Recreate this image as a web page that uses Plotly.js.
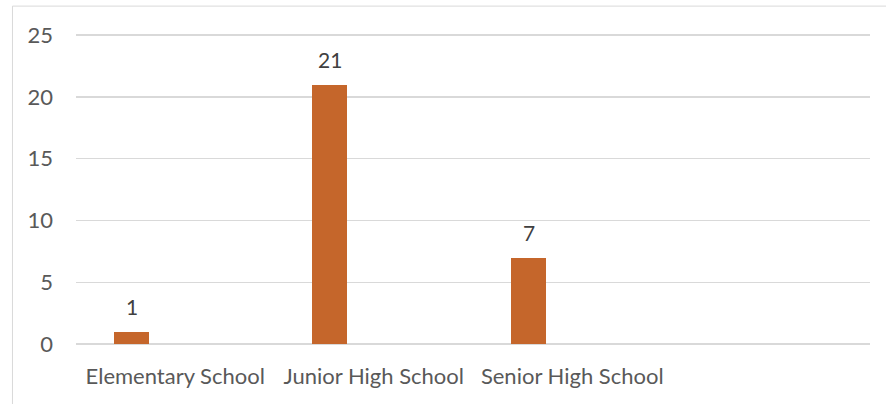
<!DOCTYPE html>
<html>
<head>
<meta charset="utf-8">
<script src="https://cdn.plot.ly/plotly-3.0.1.min.js"></script>
<style>
  html, body { margin: 0; padding: 0; background: #ffffff; }
  #chart { width: 886px; height: 404px; }
</style>
</head>
<body>
<div id="chart"></div>
<script>
// Data
var categories = ["Elementary School", "Junior High School", "Senior High School"];
var values = [1, 21, 7];
var yTickValues = [0, 5, 10, 15, 20, 25];

var FONT = "Lato, 'Open Sans', sans-serif";
var AXIS_COLOR = "#595959";
var LABEL_COLOR = "#404040";
var GRID = "#D9D9D9";
var BAR_COLOR = "#C5662B";

var BAR_WIDTH = 0.176;
var BAR_OFFSET = -0.309;

var trace = {
  type: "bar",
  x: categories,
  y: values,
  width: BAR_WIDTH,
  offset: BAR_OFFSET,
  marker: { color: BAR_COLOR, line: { width: 0 } },
  hoverinfo: "x+y",
  showlegend: false
};

var annotations = categories.map(function (c, i) {
  return {
    x: c, y: values[i], xref: "x", yref: "y",
    text: String(values[i]),
    showarrow: false,
    xanchor: "center", yanchor: "middle",
    xshift: -43.5, yshift: 25,
    font: { family: FONT, size: 21, color: LABEL_COLOR }
  };
});

var layout = {
  width: 886, height: 404,
  margin: { l: 76, r: 16, t: 34, b: 60, pad: 0 },
  paper_bgcolor: "#ffffff",
  plot_bgcolor: "#ffffff",
  font: { family: FONT, size: 22, color: AXIS_COLOR },
  bargap: 0,
  xaxis: {
    type: "category",
    range: [-0.5, 3.5],
    showgrid: false,
    showline: false,
    zeroline: false,
    ticks: "",
    ticklabelstandoff: 17,
    tickfont: { family: FONT, size: 22, color: AXIS_COLOR },
    fixedrange: true
  },
  yaxis: {
    range: [0, 25.1],
    tickvals: yTickValues,
    ticktext: yTickValues.map(String),
    showgrid: true,
    gridcolor: GRID,
    gridwidth: 1.5,
    zeroline: true,
    zerolinecolor: GRID,
    zerolinewidth: 1.5,
    showline: false,
    ticks: "",
    ticklabelstandoff: 22,
    tickfont: { family: FONT, size: 22, color: AXIS_COLOR },
    fixedrange: true
  },
  annotations: annotations,
  shapes: [
    { type: "line", xref: "paper", yref: "paper",
      x0: -0.0800, x1: -0.0800, y0: 1.09, y1: -0.2,
      line: { color: GRID, width: 1 } },
    { type: "line", xref: "paper", yref: "paper",
      x0: -0.0800, x1: 1.03, y0: 1.09, y1: 1.09,
      line: { color: GRID, width: 1 } }
  ]
};

Plotly.newPlot("chart", [trace], layout, { displayModeBar: false, staticPlot: true });
</script>
</body>
</html>
